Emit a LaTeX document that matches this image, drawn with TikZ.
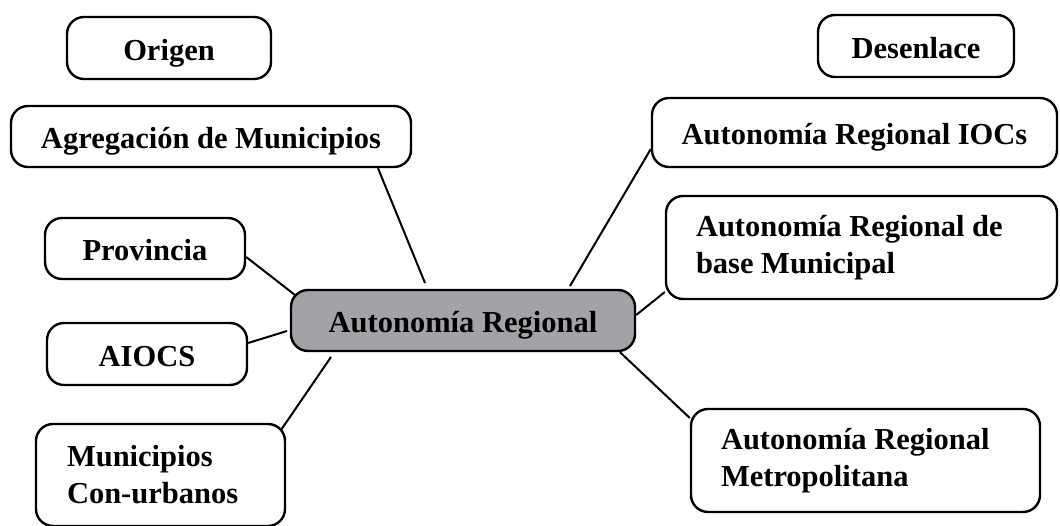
\documentclass[tikz,border=0pt]{standalone}
\usepackage{fontspec}
\setmainfont{Liberation Serif}
\definecolor{centerfill}{RGB}{163,163,167}
\begin{document}
\begin{tikzpicture}[x=1pt,y=-1pt,
  box/.style={draw, line width=2.4pt, rounded corners=17pt, inner sep=0pt,
    font=\bfseries\fontsize{30.5}{37}\selectfont, align=center},
  sbox/.style={box, text height=25pt, text depth=0pt},
  lbox/.style={box, align=flush left},
  conn/.style={line width=2pt}]
\useasboundingbox (0,0) rectangle (1060,526);
% header boxes
\node[sbox, minimum width=204pt, minimum height=62pt] (origen) at (169,48) {Origen};
\node[sbox, minimum width=196pt, minimum height=62pt] (desen) at (916,46) {Desenlace};
% left side
\node[sbox, minimum width=400pt, minimum height=61pt] (agreg) at (211,136.5) {Agregación de Municipios};
\node[sbox, minimum width=200pt, minimum height=61pt] (prov) at (145,248.5) {Provincia};
\node[sbox, minimum width=200pt, minimum height=62pt] (aiocs) at (147,354) {AIOCS};
\node[lbox, minimum width=249pt, minimum height=102pt, text width=187pt, inner xsep=31pt] (muni) at (160.5,475) {Municipios\\Con-urbanos};
% center
\node[sbox, fill=centerfill, minimum width=344pt, minimum height=61pt] (central) at (463,320.5) {Autonomía Regional};
% right side
\node[sbox, minimum width=405pt, minimum height=69pt] (iocs) at (854.5,132.5) {Autonomía Regional IOCs};
\node[lbox, minimum width=391pt, minimum height=103pt, text width=331pt, inner xsep=30pt] (base) at (861.5,247.5) {Autonomía Regional de\\base Municipal};
\node[lbox, minimum width=349pt, minimum height=103pt, text width=289pt, inner xsep=30pt] (metro) at (865.5,460.5) {Autonomía Regional\\Metropolitana};
% connector free ends
\coordinate (ea) at (425,283);
\coordinate (ep) at (295,295);
\coordinate (ei) at (287,331);
\coordinate (em) at (331,357);
\coordinate (eo) at (570,286);
\coordinate (mu) at (281,430);
% connectors
\draw[conn] (agreg.south -| 378,0) -- (ea);
\draw[conn] (prov.east |- 0,257) -- (ep);
\draw[conn] (aiocs.east |- 0,343) -- (ei);
\draw[conn] (mu) -- (em);
\draw[conn] (iocs.west |- 0,149) -- (eo);
\draw[conn] (base.west |- 0,292) -- (central.east |- 0,315);
\draw[conn] (central.south -| 620,0) -- (metro.west |- 0,418);
\end{tikzpicture}
\end{document}
